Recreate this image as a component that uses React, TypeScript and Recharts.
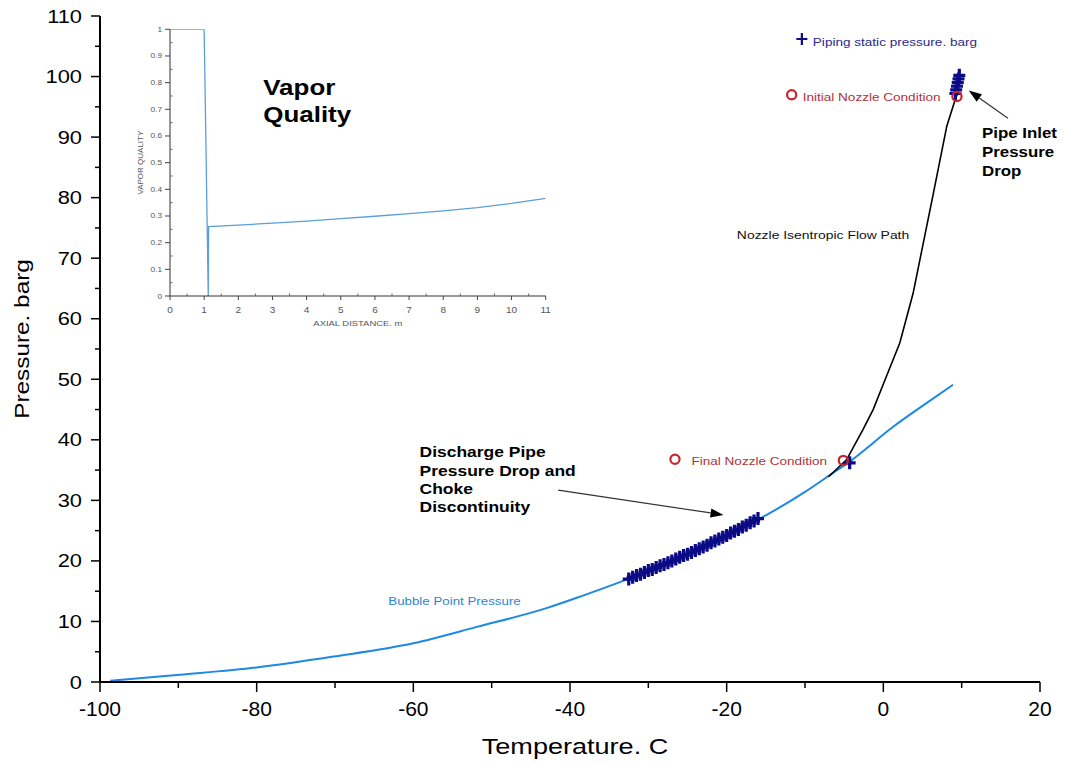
import React from 'react';
import { ComposedChart, LineChart, Line, Scatter, XAxis, YAxis, ReferenceDot, ReferenceLine } from 'recharts';

const FONT = '"Liberation Sans", Arial, Helvetica, sans-serif';
const SX = 1.18;

// ---- main chart axes ----
const tempTicks = [-100, -90, -80, -70, -60, -50, -40, -30, -20, -10, 0, 10, 20];
const pressureTicks = [0, 5, 10, 15, 20, 25, 30, 35, 40, 45, 50, 55, 60, 65, 70, 75, 80, 85, 90, 95, 100, 105, 110];

// ---- bubble point pressure curve ----
const bubbleTemp = [-98.7, -89.8, -80, -70.2, -60, -51.9, -43, -38.7, -32.8, -28, -24, -20, -14.9, -10, -6.8, -4.3, 1.3, 5, 8.9];
const bubblePress = [0.2, 1.2, 2.4, 4.2, 6.4, 9.1, 12.2, 14.1, 16.9, 19.4, 21.7, 24.2, 27.6, 31.4, 34.2, 36.4, 42.2, 45.6, 49.1];

// ---- piping static pressure (+) ----
const pipeTemp = [-32.5, -32, -31.5, -31, -30.5, -30, -29.5, -29, -28.5, -28, -27.5, -27, -26.5, -26, -25.5, -25, -24.5, -24, -23.5, -23, -22.5, -22, -21.5, -21, -20.5, -20, -19.5, -19, -18.5, -18, -17.5, -17, -16.5, -16, -4.3, 9.2, 9.3, 9.4, 9.5, 9.6, 9.7];
const pipePress = [17.0, 17.3, 17.6, 17.8, 18.1, 18.4, 18.6, 18.9, 19.2, 19.4, 19.7, 20.0, 20.3, 20.6, 20.9, 21.1, 21.4, 21.7, 22.0, 22.3, 22.6, 23.0, 23.3, 23.6, 23.9, 24.2, 24.6, 24.9, 25.2, 25.6, 25.9, 26.3, 26.6, 27.0, 36.2, 97.2, 97.8, 98.4, 99.0, 99.6, 100.2];

// ---- nozzle isentropic flow path ----
const nozzleTemp = [9.3, 8.1, 6.4, 5.1, 3.8, 2.1, 0.4, -1.3, -2.6, -4.7, -7.0];
const nozzlePress = [96.7, 91.8, 80.8, 72.5, 64.2, 56.0, 50.5, 45.0, 41.7, 36.7, 33.9];

// ---- nozzle conditions (o) ----
const condTemp = [9.4, -5.1];
const condPress = [96.7, 36.6];

// ---- inset: vapor quality ----
const axialDist = [0, 1.0, 1.12, 1.13, 2, 3, 4, 5, 6, 7, 8, 9, 10, 11];
const vaporQuality = [1, 1, 0, 0.26, 0.266, 0.273, 0.281, 0.29, 0.299, 0.309, 0.319, 0.331, 0.347, 0.366];
const axialTicks = [0, 0.5, 1, 1.5, 2, 2.5, 3, 3.5, 4, 4.5, 5, 5.5, 6, 6.5, 7, 7.5, 8, 8.5, 9, 9.5, 10, 10.5, 11];
const qualityTicks = [0, 0.05, 0.1, 0.15, 0.2, 0.25, 0.3, 0.35, 0.4, 0.45, 0.5, 0.55, 0.6, 0.65, 0.7, 0.75, 0.8, 0.85, 0.9, 0.95, 1];

const bubbleData = bubbleTemp.map((t, i) => ({ t, p: bubblePress[i] }));
const pipeData = pipeTemp.map((t, i) => ({ t, p: pipePress[i] }));
const nozzleData = nozzleTemp.map((t, i) => ({ t, p: nozzlePress[i] }));
const condData = condTemp.map((t, i) => ({ t, p: condPress[i] }));
const insetData = axialDist.map((d, i) => ({ d, q: vaporQuality[i] }));

const NAVY = '#0b0b86';
const RED = '#c3262f';

const isMult = (v: number, m: number) => Math.abs(v / m - Math.round(v / m)) < 1e-6;

const YTick = (props: any) => {
  const { x, y, payload } = props;
  const v = payload.value;
  const major = isMult(v, 10);
  return (
    <g>
      <line x1={x} x2={x - (major ? 9 : 5)} y1={y} y2={y} stroke="#000" strokeWidth={1.5} />
      {major && (
        <text transform={`translate(${x - 18},${y + 6.5}) scale(${SX},1)`} textAnchor="end" fontSize={18.5} fontFamily={FONT} fill="#000">
          {v}
        </text>
      )}
    </g>
  );
};

const XTick = (props: any) => {
  const { x, y, payload } = props;
  const v = payload.value;
  const major = isMult(v, 20);
  return (
    <g>
      <line x1={x} x2={x} y1={y} y2={y + (major ? 10 : 6)} stroke="#000" strokeWidth={1.5} />
      {major && (
        <text transform={`translate(${x},${y + 34})`} textAnchor="middle" fontSize={21} fontFamily={FONT} fill="#000">
          {v}
        </text>
      )}
    </g>
  );
};

const InsetYTick = (props: any) => {
  const { x, y, payload } = props;
  const v = payload.value;
  const major = isMult(v, 0.1);
  return (
    <g>
      {major ? (
        <line x1={x} x2={x - 5} y1={y} y2={y} stroke="#444" strokeWidth={1} />
      ) : (
        <line x1={x} x2={x + 2.5} y1={y} y2={y} stroke="#666" strokeWidth={1} />
      )}
      {major && (
        <text transform={`translate(${x - 8},${y + 2.5}) scale(${SX},1)`} textAnchor="end" fontSize={7} fontFamily={FONT} fill="#555">
          {Math.round(v * 10) / 10}
        </text>
      )}
    </g>
  );
};

const InsetXTick = (props: any) => {
  const { x, y, payload } = props;
  const v = payload.value;
  const major = isMult(v, 1);
  return (
    <g>
      {major ? (
        <line x1={x} x2={x} y1={y} y2={y + 4} stroke="#444" strokeWidth={1} />
      ) : (
        <line x1={x} x2={x} y1={y} y2={y - 2.5} stroke="#666" strokeWidth={1} />
      )}
      {major && (
        <text transform={`translate(${x},${y + 17}) scale(${SX},1)`} textAnchor="middle" fontSize={8.5} fontFamily={FONT} fill="#555">
          {v}
        </text>
      )}
    </g>
  );
};

const PlusShape = (props: any) => {
  const { cx, cy } = props;
  if (cx == null || cy == null) return <g />;
  return <path d={`M${cx - 6},${cy}H${cx + 6}M${cx},${cy - 6.5}V${cy + 6.5}`} stroke={NAVY} strokeWidth={3.2} fill="none" />;
};

const LegendPlus = (props: any) => {
  const { cx, cy } = props;
  if (cx == null || cy == null) return <g />;
  return <path d={`M${cx - 5.5},${cy}H${cx + 5.5}M${cx},${cy - 6}V${cy + 6}`} stroke={NAVY} strokeWidth={2.2} fill="none" />;
};

const CircleShape = (props: any) => {
  const { cx, cy } = props;
  if (cx == null || cy == null) return <g />;
  return <circle cx={cx} cy={cy} r={4.6} stroke={RED} strokeWidth={2.2} fill="none" />;
};

const textShape = (lines: string[], size: number, color: string, weight: string, lh: number) => (props: any) => {
  const { cx, cy } = props;
  return (
    <text transform={`translate(${cx},${cy}) scale(${SX},1)`} fontSize={size} fontFamily={FONT} fontWeight={weight} fill={color}>
      {lines.map((l, i) => (
        <tspan key={i} x={0} dy={i === 0 ? 0 : lh}>
          {l}
        </tspan>
      ))}
    </text>
  );
};

const ArrowShape = (props: any) => {
  const { x1, y1, x2, y2 } = props;
  const ang = Math.atan2(y2 - y1, x2 - x1);
  const L = 13;
  const W = 4.5;
  const bx = x2 - L * Math.cos(ang);
  const by = y2 - L * Math.sin(ang);
  const px = -Math.sin(ang) * W;
  const py = Math.cos(ang) * W;
  return (
    <g>
      <line x1={x1} y1={y1} x2={bx} y2={by} stroke="#333" strokeWidth={1.2} />
      <polygon points={`${x2},${y2} ${bx + px},${by + py} ${bx - px},${by - py}`} fill="#000" />
    </g>
  );
};

const Inset = () => (
  <LineChart width={430} height={320} data={insetData} margin={{ top: 9.3, left: 39, right: 14.3, bottom: 43 }}>
    <XAxis
      type="number"
      dataKey="d"
      domain={[0, 11]}
      ticks={axialTicks}
      interval={0}
      height={1}
      tickSize={0}
      tickMargin={0}
      tickLine={false}
      tick={<InsetXTick />}
      axisLine={{ stroke: '#333', strokeWidth: 1 }}
      allowDataOverflow
      label={{
        content: (p: any) => {
          const vb = p.viewBox;
          return (
            <text transform={`translate(${vb.x + vb.width / 2},${vb.y + 30}) scale(${SX},1)`} textAnchor="middle" fontSize={8} fontFamily={FONT} fill="#555">
              AXIAL DISTANCE. m
            </text>
          );
        },
      }}
    />
    <YAxis
      type="number"
      dataKey="q"
      domain={[0, 1]}
      ticks={qualityTicks}
      interval={0}
      width={1}
      tickSize={0}
      tickMargin={0}
      tickLine={false}
      tick={<InsetYTick />}
      axisLine={{ stroke: '#333', strokeWidth: 1 }}
      allowDataOverflow
      label={{
        content: (p: any) => {
          const vb = p.viewBox;
          return (
            <text transform={`translate(${vb.x - 26},${vb.y + vb.height / 2}) rotate(-90)`} textAnchor="middle" fontSize={8} fontFamily={FONT} fill="#555">
              VAPOR QUALITY
            </text>
          );
        },
      }}
    />
    <Line type="linear" dataKey="q" stroke="#5a9fdc" strokeWidth={1.3} dot={false} isAnimationActive={false} />
    <ReferenceDot x={2.73} y={0.754} r={0} ifOverflow="visible" shape={textShape(['Vapor', 'Quality'], 22, '#000', 'bold', 26.7)} />
  </LineChart>
);

export default function App() {
  return (
    <div style={{ position: 'absolute', left: 0, top: 0, width: 1065, height: 766, background: '#fff' }}>
      <ComposedChart width={1065} height={766} margin={{ top: 16, left: 99, right: 25, bottom: 83 }}>
        <XAxis
          type="number"
          dataKey="t"
          domain={[-100, 20]}
          ticks={tempTicks}
          interval={0}
          height={1}
          tickSize={0}
          tickMargin={0}
          tickLine={false}
          tick={<XTick />}
          axisLine={{ stroke: '#000', strokeWidth: 2 }}
          allowDataOverflow
          label={{
            content: (p: any) => {
              const vb = p.viewBox;
              return (
                <text transform={`translate(${vb.x + vb.width / 2 + 5},${vb.y + 72}) scale(1.23,1)`} textAnchor="middle" fontSize={22} fontFamily={FONT} fill="#000">
                  Temperature. C
                </text>
              );
            },
          }}
        />
        <YAxis
          type="number"
          dataKey="p"
          domain={[0, 110]}
          ticks={pressureTicks}
          interval={0}
          width={1}
          tickSize={0}
          tickMargin={0}
          tickLine={false}
          tick={<YTick />}
          axisLine={{ stroke: '#000', strokeWidth: 2 }}
          allowDataOverflow
          label={{
            content: (p: any) => {
              const vb = p.viewBox;
              return (
                <text transform={`translate(${vb.x - 70},${vb.y + vb.height / 2 - 10}) rotate(-90) scale(1.16,1)`} textAnchor="middle" fontSize={21} fontFamily={FONT} fill="#000">
                  Pressure. barg
                </text>
              );
            },
          }}
        />
        <Line data={bubbleData} type="monotone" dataKey="p" stroke="#1e88e5" strokeWidth={2} dot={false} isAnimationActive={false} />
        <Line data={nozzleData} type="linear" dataKey="p" stroke="#000" strokeWidth={1.6} dot={false} isAnimationActive={false} />
        <Scatter data={pipeData} dataKey="p" shape={PlusShape} isAnimationActive={false} />
        <Scatter data={condData} dataKey="p" shape={CircleShape} isAnimationActive={false} />

        {/* legend-like markers and labels */}
        <ReferenceDot x={-10.4} y={106.2} r={0} shape={LegendPlus} />
        <ReferenceDot x={-9.0} y={105.0} r={0} shape={textShape(['Piping static pressure. barg'], 11.5, '#2a2a8a', 'normal', 0)} />
        <ReferenceDot x={-11.7} y={97.0} r={0} shape={CircleShape} />
        <ReferenceDot x={-10.3} y={95.9} r={0} shape={textShape(['Initial Nozzle Condition'], 11.5, '#b0323c', 'normal', 0)} />
        <ReferenceDot x={-26.6} y={36.8} r={0} shape={CircleShape} />
        <ReferenceDot x={-24.5} y={35.9} r={0} shape={textShape(['Final Nozzle Condition'], 11.5, '#b0323c', 'normal', 0)} />

        {/* annotations */}
        <ReferenceDot x={-18.7} y={73.1} r={0} shape={textShape(['Nozzle Isentropic Flow Path'], 11.8, '#111', 'normal', 0)} />
        <ReferenceDot x={-63.2} y={12.7} r={0} shape={textShape(['Bubble Point Pressure'], 11.3, '#2f86d0', 'normal', 0)} />
        <ReferenceDot
          x={-59.2}
          y={37.1}
          r={0}
          shape={textShape(['Discharge Pipe', 'Pressure Drop and', 'Choke', 'Discontinuity'], 14.8, '#000', 'bold', 18.3)}
        />
        <ReferenceDot x={12.6} y={89.8} r={0} ifOverflow="visible" shape={textShape(['Pipe Inlet', 'Pressure', 'Drop'], 14.3, '#000', 'bold', 19)} />
        <ReferenceLine segment={[{ x: 15.9, y: 93.1 }, { x: 10.9, y: 97.7 }]} shape={ArrowShape} ifOverflow="visible" />
        <ReferenceLine segment={[{ x: -41.5, y: 31.7 }, { x: -20.4, y: 27.6 }]} shape={ArrowShape} ifOverflow="visible" />
      </ComposedChart>
      <div style={{ position: 'absolute', left: 130, top: 20 }}>
        <Inset />
      </div>
    </div>
  );
}
